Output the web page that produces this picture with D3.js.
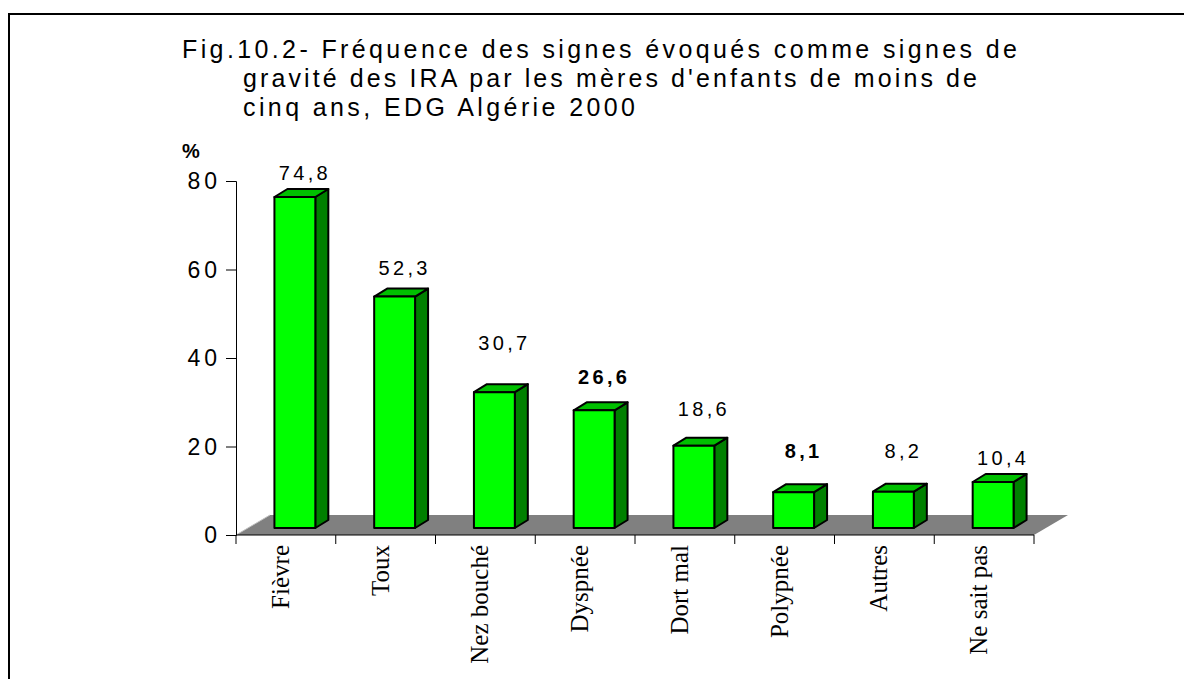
<!DOCTYPE html>
<html>
<head>
<meta charset="utf-8">
<script src="https://cdn.jsdelivr.net/npm/d3@7"></script>
<style>
  body { margin: 0; background: #fff; }
  svg { display: block; }
</style>
</head>
<body>
<div id="chart"></div>
<script>
//Data
var categories = ["Fièvre", "Toux", "Nez bouché", "Dyspnée", "Dort mal", "Polypnée", "Autres", "Ne sait pas"];
var values = [74.8, 52.3, 30.7, 26.6, 18.6, 8.1, 8.2, 10.4];
var valueLabels = ["74,8", "52,3", "30,7", "26,6", "18,6", "8,1", "8,2", "10,4"];
var yTicks = [0, 20, 40, 60, 80];
var titleLines = [
    "Fig.10.2- Fréquence des signes évoqués comme signes de",
    "gravité des IRA par les mères d'enfants de moins de",
    "cinq ans, EDG Algérie 2000"
];

//Style
var boldLabels = ["Dyspnée", "Polypnée"];
var labelGap = [9, 14, 34, 18, 22, 26, 26, 9];   // px above the bar top, as placed in the source
var colorFront = "#00ff00";
var colorSide = "#008000";
var colorTop = "#00c000";
var colorFloor = "#808080";

var W = 1184, H = 679;
var x0 = 236, x1 = 1034, yBase = 535, yTop = 181;
var floorDx = 34, floorDy = 20;   // depth of the floor
var barDx = 13, barDy = 8;        // depth of each bar
var shiftX = 10, shiftY = 7;      // bars sit halfway into the floor

var svg = d3.select("#chart").append("svg")
    .attr("width", W)
    .attr("height", H);

//Frame
svg.append("rect")
    .attr("x", 9).attr("y", 14)
    .attr("width", W + 20).attr("height", H + 20)
    .attr("fill", "none")
    .attr("stroke", "#000")
    .attr("stroke-width", 2);

//Title
var title = svg.append("g").attr("font-family", "Liberation Sans, Arial, sans-serif")
    .attr("font-size", 25).attr("fill", "#000");
var titleX = [182, 243, 243];
var titleLen = [835, 734, 392];
var titleY = [58, 87, 116];
titleLines.forEach(function (t, i) {
    title.append("text")
        .attr("x", titleX[i]).attr("y", titleY[i])
        .attr("textLength", titleLen[i])
        .attr("lengthAdjust", "spacing")
        .text(t);
});

//Scales
var x = d3.scaleBand().domain(categories).range([x0, x1]).padding(0);
var y = d3.scaleLinear().domain([0, 80]).range([yBase, yTop]);
var barW = x.bandwidth() * 0.41;

//Floor
svg.append("polygon")
    .attr("points", [
        [x0, yBase], [x0 + floorDx, yBase - floorDy],
        [x1 + floorDx, yBase - floorDy], [x1, yBase]
    ].map(function (p) { return p.join(","); }).join(" "))
    .attr("fill", colorFloor);
svg.append("line")
    .attr("x1", x0).attr("y1", yBase)
    .attr("x2", x0 + floorDx).attr("y2", yBase - floorDy)
    .attr("stroke", "#c0c0c0").attr("stroke-width", 1);

//Y axis
var yAxis = svg.append("g")
    .attr("transform", "translate(" + x0 + ",0)")
    .call(d3.axisLeft(y).tickValues(yTicks).tickSize(10).tickFormat(""));
yAxis.select(".domain").attr("stroke", "#000");
yAxis.selectAll(".tick line").attr("stroke", "#000");

svg.append("g").selectAll("text")
    .data(yTicks)
    .join("text")
    .attr("x", 221)
    .attr("y", function (d) { return y(d); })
    .attr("dy", "0.36em")
    .attr("text-anchor", "end")
    .attr("font-family", "Liberation Sans, Arial, sans-serif")
    .attr("font-size", 23)
    .attr("letter-spacing", 4)
    .text(function (d) { return d; });

svg.append("text")
    .attr("x", 182).attr("y", 158)
    .attr("font-family", "Liberation Sans, Arial, sans-serif")
    .attr("font-size", 20).attr("font-weight", "bold")
    .text("%");

//X axis
var xAxis = svg.append("g")
    .attr("transform", "translate(0," + yBase + ")");
xAxis.append("line")
    .attr("x1", x0).attr("x2", x1)
    .attr("stroke", "#000");
xAxis.selectAll(".tk")
    .data(categories.concat(["end"]))
    .join("line")
    .attr("class", "tk")
    .attr("x1", function (d, i) { return x0 + i * x.bandwidth(); })
    .attr("x2", function (d, i) { return x0 + i * x.bandwidth(); })
    .attr("y1", 0).attr("y2", 9)
    .attr("stroke", "#000");

svg.append("g").selectAll("text")
    .data(categories)
    .join("text")
    .attr("transform", function (d) {
        return "translate(" + (x(d) + x.bandwidth() / 2 + 3) + "," + 545 + ") rotate(-90)";
    })
    .attr("text-anchor", "end")
    .attr("font-family", "Liberation Serif, Times New Roman, serif")
    .attr("font-size", 25)
    .text(function (d) { return d; });

//Bars
var bars = svg.append("g")
    .attr("stroke", "#000")
    .attr("stroke-width", 2)
    .attr("stroke-linejoin", "round");

categories.forEach(function (c, i) {
    var left = x(c) + (x.bandwidth() - barW) / 2 + shiftX - 1;
    var right = left + barW;
    var top = y(values[i]) - shiftY;
    var bottom = yBase - shiftY;

    bars.append("polygon")
        .attr("points", [[right, top], [right + barDx, top - barDy], [right + barDx, bottom - barDy], [right, bottom]].join(" "))
        .attr("fill", colorSide);
    bars.append("polygon")
        .attr("points", [[left, top], [left + barDx, top - barDy], [right + barDx, top - barDy], [right, top]].join(" "))
        .attr("fill", colorTop);
    bars.append("rect")
        .attr("x", left).attr("y", top)
        .attr("width", barW).attr("height", bottom - top)
        .attr("fill", colorFront);
});

//Value labels
svg.append("g").selectAll("text")
    .data(categories)
    .join("text")
    .attr("x", function (d) { return x(d) + x.bandwidth() / 2 + shiftX + 9; })
    .attr("y", function (d, i) { return y(values[i]) - shiftY - barDy - labelGap[i]; })
    .attr("text-anchor", "middle")
    .attr("font-family", "Liberation Sans, Arial, sans-serif")
    .attr("font-size", 20)
    .attr("letter-spacing", 3.3)
    .attr("font-weight", function (d) { return boldLabels.includes(d) ? "bold" : "normal"; })
    .text(function (d, i) { return valueLabels[i]; });
</script>
</body>
</html>
